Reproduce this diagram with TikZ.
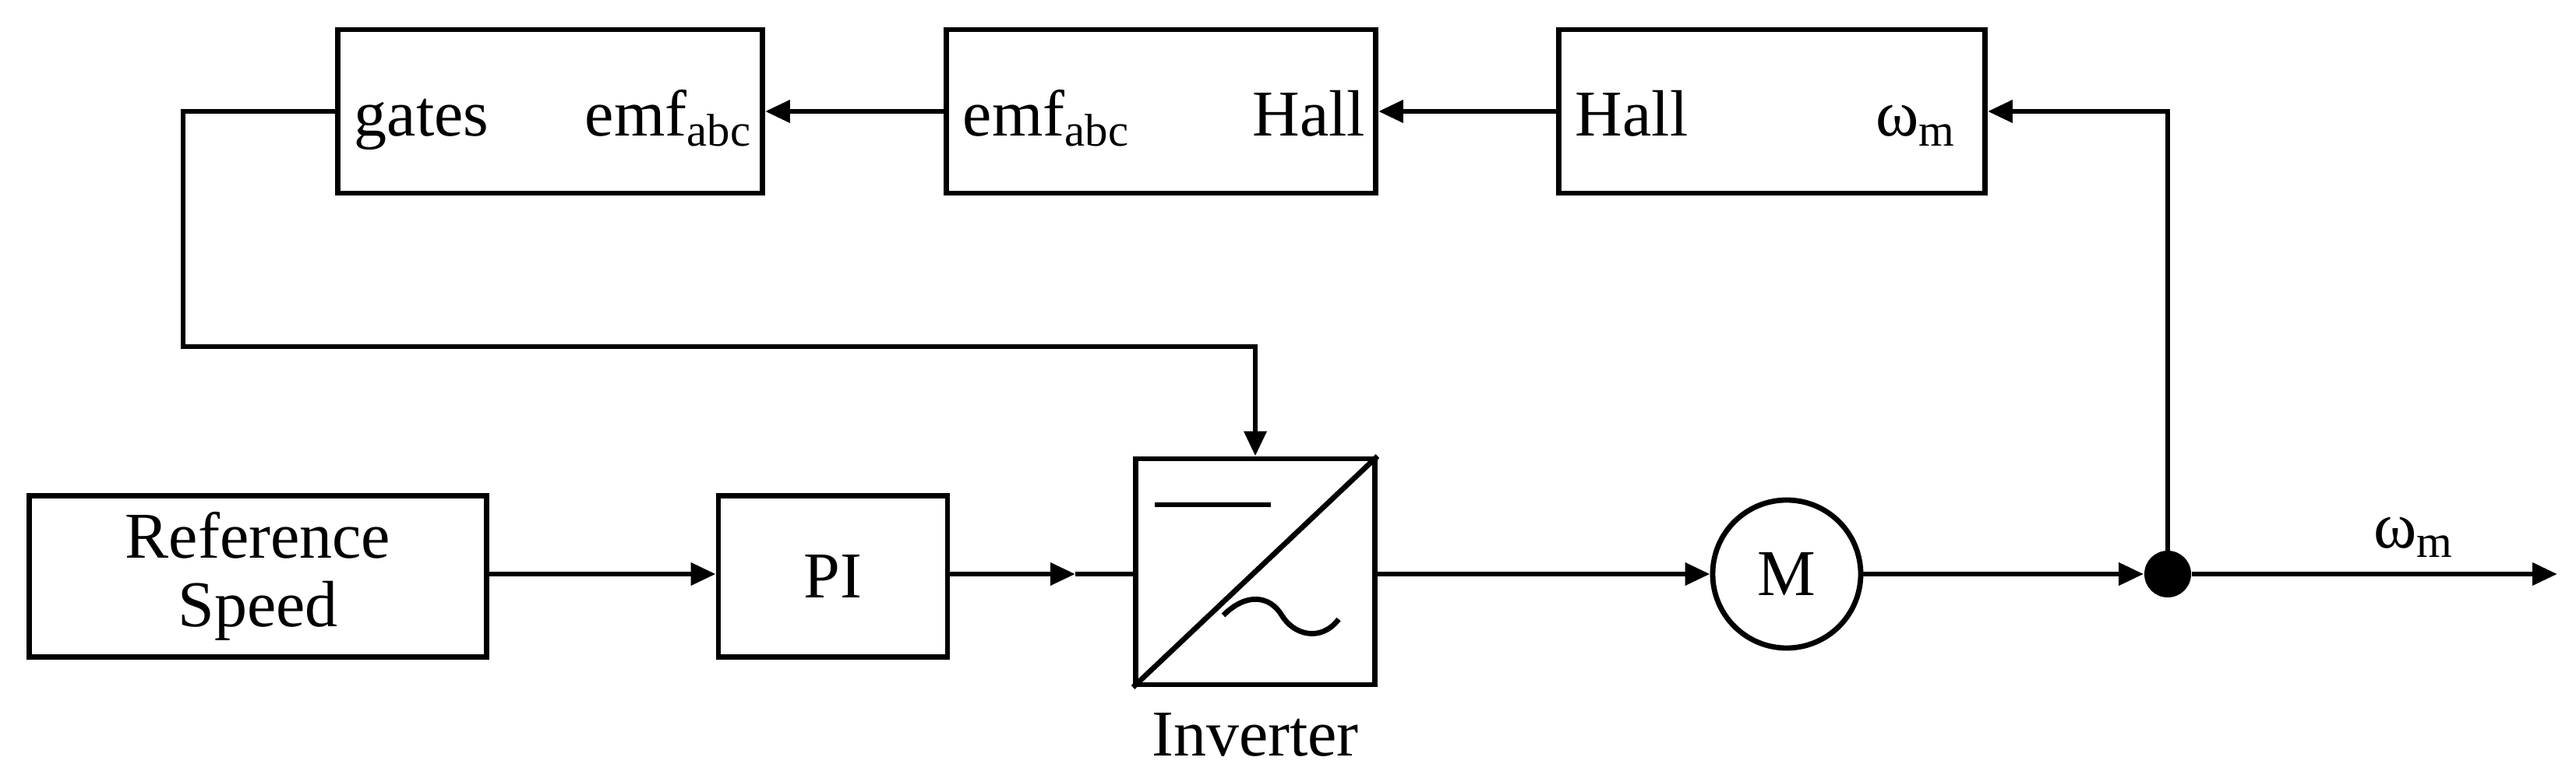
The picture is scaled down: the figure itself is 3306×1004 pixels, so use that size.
\documentclass[tikz,border=0pt]{standalone}
\usepackage{fontspec}
\setmainfont{Liberation Serif}
\usetikzlibrary{arrows.meta}
\begin{document}
\begin{tikzpicture}[x=0.25pt,y=-0.25pt,
  every node/.style={inner sep=0pt,font=\fontsize{21}{24}\selectfont},
  blk/.style={draw,line width=1.7pt},
  ln/.style={line width=1.7pt},
  arr/.style={ln,-{Triangle[length=8pt,width=7pt]}}]
\useasboundingbox (0,0) rectangle (3306,1004);
% top boxes
\node[blk,minimum width=545*0.25pt,minimum height=210*0.25pt] (gb) at (706,143) {};
\node[blk,minimum width=551*0.25pt,minimum height=210*0.25pt] (eb) at (1490,143) {};
\node[blk,minimum width=547*0.25pt,minimum height=210*0.25pt] (hb) at (2274,143) {};
\node[anchor=base west] (g1) at ([xshift=6pt,yshift=-8pt]gb.west) {gates};
\node[anchor=base east] (g2) at ([xshift=-4pt,yshift=-8pt]gb.east) {emf\textsubscript{abc}};
\node[anchor=base west] (e1) at ([xshift=6pt,yshift=-8pt]eb.west) {emf\textsubscript{abc}};
\node[anchor=base east] (e2) at ([xshift=-4pt,yshift=-8pt]eb.east) {Hall};
\node[anchor=base west] (h1) at ([xshift=6pt,yshift=-8pt]hb.west) {Hall};
\node[anchor=base east] (h2) at ([xshift=-10pt,yshift=-8pt]hb.east) {ω\textsubscript{m}};
% bottom
\node[blk,minimum width=587*0.25pt,minimum height=207*0.25pt,align=center] (rs) at (331,740) {Reference\\[-2pt]Speed};
\node[blk,minimum width=294*0.25pt,minimum height=207*0.25pt] (pi) at (1069,740) {PI};
\node[blk,minimum width=307*0.25pt,minimum height=290*0.25pt] (inv) at (1611,734) {};
\node[anchor=north] (invl) at ([yshift=-8pt]inv.south) {Inverter};
\draw[ln] (inv.south west) -- (inv.north east);
\draw[ln] (1482,648) -- (1631,648);
\draw[ln] (1570,790) .. controls (1600,760) and (1630,765) .. (1645,790) .. controls (1660,815) and (1695,825) .. (1718,795);
\node[draw,circle,line width=1.7pt,minimum size=190*0.25pt] (m) at (2293,737) {M};
\node[circle,fill,minimum size=60*0.25pt] (dot) at (2782,737) {};
\coordinate (out) at (3282,737);
\node (wl) at (3098,690) {ω\textsubscript{m}};
\coordinate (pim) at (1380,737);
\draw[arr] (rs.east |- pim) -- (pi.west |- pim);
\draw[arr] (pi.east |- pim) -- (pim);
\draw[ln] (pim) -- (inv.west |- pim);
\draw[arr] (inv.east |- m) -- (m.west);
\draw[arr] (m.east) -- (dot.west);
\draw[arr] (dot.east) -- (out);
\draw[arr] (dot.center) |- (hb.east);
\draw[arr] (hb.west) -- (eb.east);
\draw[arr] (eb.west) -- (gb.east);
\coordinate (c1) at (235,445);
\draw[arr] (gb.west) -| (c1) -| (inv.north);
\end{tikzpicture}
\end{document}
